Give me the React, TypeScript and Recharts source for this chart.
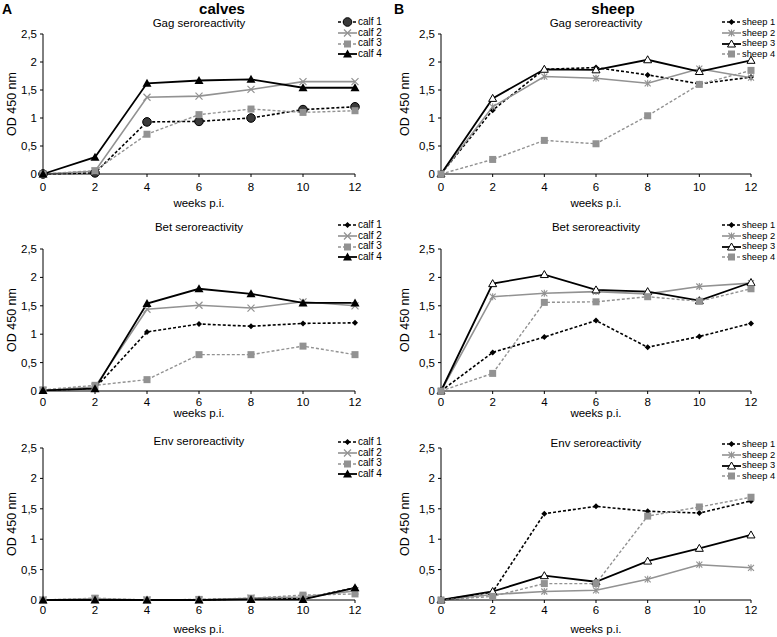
import React from "react"
import { LineChart, Line, XAxis, YAxis, Legend } from "recharts"

const weeks = [0, 2, 4, 6, 8, 10, 12]
const yTicks = [0, 0.5, 1, 1.5, 2, 2.5]

// calves
const calfGag1 = [0, 0.02, 0.93, 0.94, 1.0, 1.15, 1.2]
const calfGag2 = [0, 0.05, 1.37, 1.39, 1.51, 1.65, 1.65]
const calfGag3 = [0, 0.06, 0.71, 1.06, 1.16, 1.1, 1.13]
const calfGag4 = [0, 0.3, 1.62, 1.67, 1.69, 1.54, 1.54]

const calfBet1 = [0.01, 0.05, 1.04, 1.18, 1.14, 1.19, 1.2]
const calfBet2 = [0.01, 0.07, 1.44, 1.51, 1.46, 1.57, 1.5]
const calfBet3 = [0.02, 0.1, 0.2, 0.64, 0.64, 0.79, 0.64]
const calfBet4 = [0.01, 0.04, 1.54, 1.8, 1.71, 1.55, 1.55]

const calfEnv1 = [0, 0, 0, 0, 0.02, 0.02, 0.2]
const calfEnv2 = [0, 0.02, 0, 0, 0.03, 0.05, 0.15]
const calfEnv3 = [0, 0.03, 0, 0.01, 0.03, 0.08, 0.1]
const calfEnv4 = [0, 0, 0, 0, 0.01, 0.01, 0.2]

// sheep
const sheepGag1 = [0, 1.14, 1.87, 1.9, 1.77, 1.61, 1.73]
const sheepGag2 = [0, 1.2, 1.74, 1.71, 1.62, 1.88, 1.72]
const sheepGag3 = [0, 1.35, 1.87, 1.86, 2.04, 1.83, 2.03]
const sheepGag4 = [0, 0.26, 0.6, 0.54, 1.04, 1.6, 1.85]

const sheepBet1 = [0, 0.68, 0.95, 1.24, 0.77, 0.96, 1.19]
const sheepBet2 = [0, 1.66, 1.72, 1.75, 1.71, 1.84, 1.9]
const sheepBet3 = [0, 1.89, 2.05, 1.78, 1.75, 1.59, 1.91]
const sheepBet4 = [0, 0.31, 1.56, 1.57, 1.66, 1.58, 1.8]

const sheepEnv1 = [0, 0.13, 1.42, 1.54, 1.46, 1.43, 1.63]
const sheepEnv2 = [0, 0.09, 0.14, 0.16, 0.34, 0.58, 0.53]
const sheepEnv3 = [0, 0.14, 0.4, 0.3, 0.64, 0.85, 1.07]
const sheepEnv4 = [0, 0.06, 0.27, 0.27, 1.38, 1.53, 1.69]

const FONT = "'Liberation Sans', Arial, sans-serif"
const GRAY = "#929292"

type Shape = "circle" | "diamond" | "x" | "square" | "triangle" | "openTriangle" | "star"

type Style = { name: string; color: string; dash?: string; width: number; shape: Shape }

function Marker({ cx, cy, shape, color }: { cx: number; cy: number; shape: Shape; color: string }) {
  if (cx == null || cy == null) return null
  switch (shape) {
    case "circle":
      return <circle cx={cx} cy={cy} r={4.3} fill="#3a3a3a" stroke="#000" strokeWidth={1} />
    case "diamond":
      return <path d={`M${cx},${cy - 3}L${cx + 3},${cy}L${cx},${cy + 3}L${cx - 3},${cy}Z`} fill="#000" />
    case "x":
      return (
        <path d={`M${cx - 3.5},${cy - 3.5}L${cx + 3.5},${cy + 3.5}M${cx - 3.5},${cy + 3.5}L${cx + 3.5},${cy - 3.5}`} stroke={color} strokeWidth={1.2} fill="none" />
      )
    case "star":
      return (
        <path
          d={`M${cx - 3},${cy - 3}L${cx + 3},${cy + 3}M${cx - 3},${cy + 3}L${cx + 3},${cy - 3}M${cx},${cy - 3.5}L${cx},${cy + 3.5}`}
          stroke={color}
          strokeWidth={1.1}
          fill="none"
        />
      )
    case "square":
      return <rect x={cx - 3.5} y={cy - 3.5} width={7} height={7} fill={color} />
    case "triangle":
      return <path d={`M${cx},${cy - 4.5}L${cx + 4.5},${cy + 3.5}L${cx - 4.5},${cy + 3.5}Z`} fill="#000" />
    case "openTriangle":
      return <path d={`M${cx},${cy - 4}L${cx + 4},${cy + 3}L${cx - 4},${cy + 3}Z`} fill="#fff" stroke="#000" strokeWidth={1} />
  }
  return null
}

const calfGagStyles: Style[] = [
  { name: "calf 1", color: "#000", dash: "3 2", width: 1.6, shape: "circle" },
  { name: "calf 2", color: GRAY, width: 1.6, shape: "x" },
  { name: "calf 3", color: GRAY, dash: "3 2", width: 1.4, shape: "square" },
  { name: "calf 4", color: "#000", width: 1.8, shape: "triangle" },
]
const calfStyles: Style[] = [
  { name: "calf 1", color: "#000", dash: "3 2", width: 1.6, shape: "diamond" },
  { name: "calf 2", color: GRAY, width: 1.6, shape: "x" },
  { name: "calf 3", color: GRAY, dash: "3 2", width: 1.4, shape: "square" },
  { name: "calf 4", color: "#000", width: 1.8, shape: "triangle" },
]
const sheepStyles: Style[] = [
  { name: "sheep 1", color: "#000", dash: "3 2", width: 1.6, shape: "diamond" },
  { name: "sheep 2", color: GRAY, width: 1.6, shape: "star" },
  { name: "sheep 3", color: "#000", width: 1.8, shape: "openTriangle" },
  { name: "sheep 4", color: GRAY, dash: "3 2", width: 1.4, shape: "square" },
]

function buildRows(series: number[][]) {
  return weeks.map((w, i) => {
    const row: Record<string, number> = { week: w }
    series.forEach((s, k) => (row["s" + k] = s[i]))
    return row
  })
}

type PanelProps = {
  left: number
  top: number
  width: number
  height: number
  plotLeft: number
  plotRight: number
  plotTop: number
  plotBottom: number
  title: string
  titleY: number
  series: number[][]
  styles: Style[]
  legendLeft: number
  legendTop: number
  legendFont: number
  yLabelX: number
  xLabelOffset: number
  xTickMargin: number
}

function Panel(p: PanelProps) {
  const data = buildRows(p.series)
  const renderLegend = () => (
    <div style={{ fontFamily: FONT, fontSize: p.legendFont, lineHeight: "10.7px", color: "#000", whiteSpace: "nowrap" }}>
      {p.styles.map((s) => (
        <div key={s.name} style={{ display: "flex", alignItems: "center", height: 10.7 }}>
          <svg width={19} height={10} style={{ marginRight: 1, flex: "none" }}>
            <line x1={0} y1={5} x2={19} y2={5} stroke={s.color} strokeWidth={s.width} strokeDasharray={s.dash} />
            <Marker cx={9.5} cy={5} shape={s.shape} color={s.color} />
          </svg>
          <span>{s.name}</span>
        </div>
      ))}
    </div>
  )
  const center = (p.plotLeft + p.plotRight) / 2 - p.left
  return (
    <div style={{ position: "absolute", left: p.left, top: p.top, width: p.width, height: p.height }}>
      <div
        style={{
          position: "absolute",
          left: center - 100,
          width: 200,
          top: p.titleY - p.top - 7,
          textAlign: "center",
          fontFamily: FONT,
          fontSize: 11.5,
        }}
      >
        {p.title}
      </div>
      <LineChart
        width={p.width}
        height={p.height}
        data={data}
        margin={{ top: p.plotTop - p.top, right: p.left + p.width - p.plotRight, bottom: 0, left: 0 }}
      >
        <XAxis
          dataKey="week"
          type="number"
          domain={[0, 12]}
          ticks={weeks}
          height={p.top + p.height - p.plotBottom}
          stroke="#000"
          tickSize={3}
          tickMargin={p.xTickMargin}
          tick={{ fill: "#000", fontSize: 11.5, fontFamily: FONT }}
          label={{ value: "weeks p.i.", position: "insideBottom", offset: p.xLabelOffset, fill: "#000", fontSize: 11.5, fontFamily: FONT }}
        />
        <YAxis
          domain={[0, 2.5]}
          ticks={yTicks}
          width={p.plotLeft - p.left}
          stroke="#000"
          tickSize={3}
          tickMargin={3}
          interval={0}
          tickFormatter={(v: number) => String(v).replace(".", ",")}
          tick={{ fill: "#000", fontSize: 11.5, fontFamily: FONT }}
          label={{
            value: "OD 450 nm",
            angle: -90,
            position: "insideLeft",
            offset: p.yLabelX - p.left,
            style: { textAnchor: "middle" },
            fill: "#000",
            fontSize: 12.5,
            fontFamily: FONT,
          }}
        />
        <Legend
          layout="vertical"
          align="center"
          verticalAlign="middle"
          content={renderLegend}
          wrapperStyle={{ position: "absolute", left: p.legendLeft - p.left, top: p.legendTop - p.top, width: "auto", height: "auto" }}
        />
        {p.styles.map((s, k) => (
          <Line
            key={s.name}
            dataKey={"s" + k}
            name={s.name}
            stroke={s.color}
            strokeWidth={s.width}
            strokeDasharray={s.dash}
            isAnimationActive={false}
            dot={(d: any) => <Marker key={s.name + d.index} cx={d.cx} cy={d.cy} shape={s.shape} color={s.color} />}
            activeDot={false}
          />
        ))}
      </LineChart>
    </div>
  )
}

export default function App() {
  const colA = { left: 0, width: 390, plotLeft: 43, plotRight: 355, legendLeft: 338, legendFont: 10, yLabelX: 12 }
  const colB = { left: 388, width: 389, plotLeft: 441, plotRight: 751, legendLeft: 722, legendFont: 9.3, yLabelX: 405 }
  const row1 = { top: 0, height: 210, plotTop: 34, plotBottom: 174, xLabelOffset: 3, xTickMargin: 6 }
  const row2 = { top: 210, height: 210, plotTop: 249, plotBottom: 391, xLabelOffset: 3, xTickMargin: 4 }
  const row3 = { top: 420, height: 217, plotTop: 448, plotBottom: 600, xLabelOffset: 4, xTickMargin: 3 }
  return (
    <div style={{ position: "fixed", left: 0, top: 0, width: 777, height: 637, background: "#fff", fontFamily: FONT }}>
      <div style={{ position: "absolute", left: 2, top: 1, fontWeight: "bold", fontSize: 14 }}>A</div>
      <div style={{ position: "absolute", left: 394, top: 1, fontWeight: "bold", fontSize: 14 }}>B</div>
      <div style={{ position: "absolute", left: 172, width: 100, textAlign: "center", top: 0, fontWeight: "bold", fontSize: 15 }}>calves</div>
      <div style={{ position: "absolute", left: 563, width: 100, textAlign: "center", top: 0, fontWeight: "bold", fontSize: 15 }}>sheep</div>

      <Panel {...colA} {...row1} title="Gag seroreactivity" titleY={24} series={[calfGag1, calfGag2, calfGag3, calfGag4]} styles={calfGagStyles} legendTop={17} />
      <Panel {...colB} {...row1} title="Gag seroreactivity" titleY={24} series={[sheepGag1, sheepGag2, sheepGag3, sheepGag4]} styles={sheepStyles} legendTop={17} />
      <Panel {...colA} {...row2} title="Bet seroreactivity" titleY={228} series={[calfBet1, calfBet2, calfBet3, calfBet4]} styles={calfStyles} legendTop={220} />
      <Panel {...colB} {...row2} title="Bet seroreactivity" titleY={228} series={[sheepBet1, sheepBet2, sheepBet3, sheepBet4]} styles={sheepStyles} legendTop={220} />
      <Panel {...colA} {...row3} title="Env seroreactivity" titleY={442} series={[calfEnv1, calfEnv2, calfEnv3, calfEnv4]} styles={calfStyles} legendTop={437} />
      <Panel {...colB} {...row3} title="Env seroreactivity" titleY={444} series={[sheepEnv1, sheepEnv2, sheepEnv3, sheepEnv4]} styles={sheepStyles} legendTop={439} />
    </div>
  )
}
